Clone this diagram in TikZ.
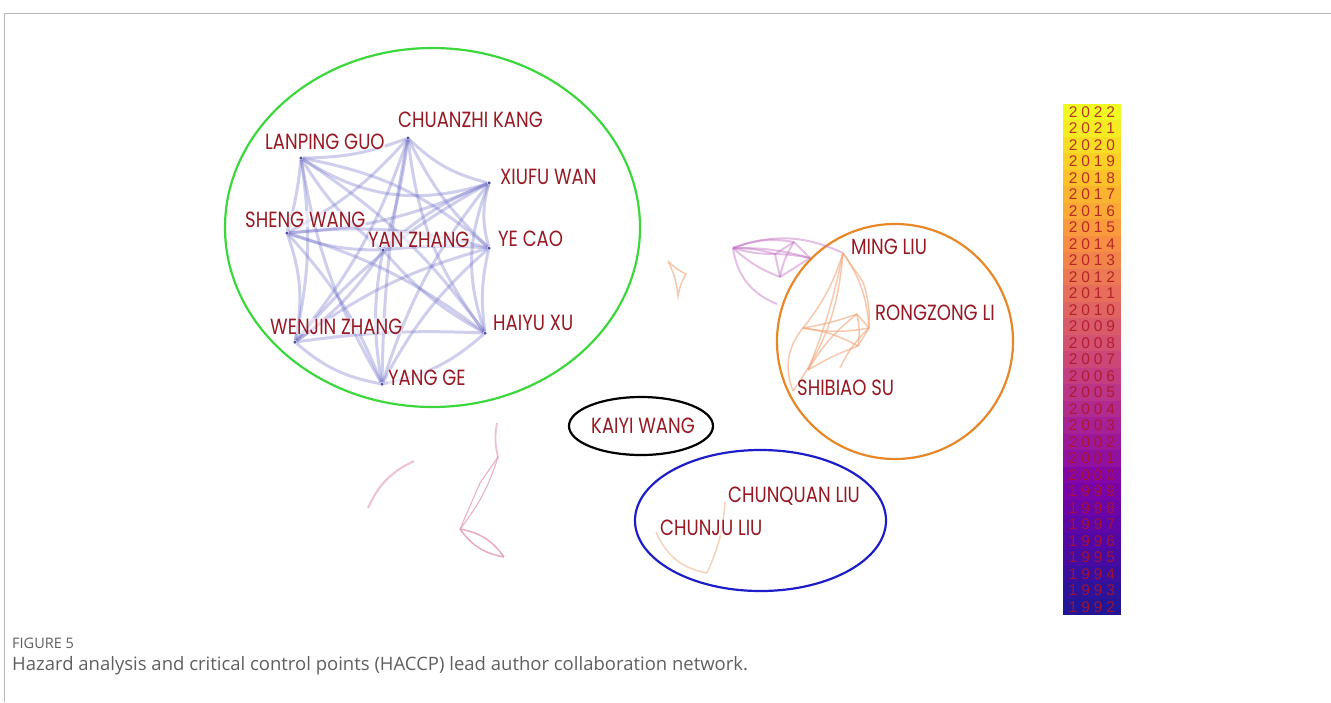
\documentclass[tikz,border=0pt]{standalone}
\usepackage{fontspec}
\newfontfamily\namefont[FakeStretch=0.82]{Poppins}
\newfontfamily\capfont{Open Sans}
\newfontfamily\yrfont{Liberation Sans}
\definecolor{namered}{RGB}{150,25,35}
\definecolor{gedgec}{RGB}{110,110,200}
\definecolor{dotc}{RGB}{80,80,170}
\definecolor{orc}{RGB}{240,165,120}
\definecolor{puc}{RGB}{195,115,195}
\definecolor{pkc}{RGB}{228,150,175}
\definecolor{ringgreen}{RGB}{60,215,60}
\definecolor{ringorange}{RGB}{232,135,40}
\definecolor{ringblue}{RGB}{30,30,200}
\definecolor{capgray}{RGB}{95,95,95}
\definecolor{framegray}{RGB}{185,185,185}
\definecolor{yrred}{RGB}{175,20,35}
\definecolor{pl0}{RGB}{35,22,150}
\definecolor{pl1}{RGB}{80,8,165}
\definecolor{pl2}{RGB}{126,3,168}
\definecolor{pl3}{RGB}{170,35,149}
\definecolor{pl4}{RGB}{204,71,120}
\definecolor{pl5}{RGB}{229,107,93}
\definecolor{pl6}{RGB}{248,149,64}
\definecolor{pl7}{RGB}{253,196,39}
\definecolor{pl8}{RGB}{240,249,33}
\newcommand\yrdigits[4]{\makebox[12.5pt]{#1}\makebox[12.5pt]{#2}\makebox[12.5pt]{#3}\makebox[12.5pt]{#4}}
\tikzset{
  lbl/.style={anchor=base west, inner sep=0pt, font=\namefont\fontsize{22}{23}\selectfont, text=namered, fill=white, fill opacity=0.55, text opacity=1},
  gdot/.style={circle, fill=dotc, inner sep=0pt, minimum size=3.5pt},
  gedge/.style={draw=gedgec, line width=3pt, opacity=0.33},
  oedge/.style={draw=orc, line width=1.5pt, opacity=0.6},
  pedge/.style={draw=puc, line width=2pt, opacity=0.45},
  kedge/.style={draw=pkc, line width=1pt, opacity=0.8},
  ring/.style={line width=2.2pt},
  yr/.style={inner sep=0pt, font=\yrfont\fontsize{15.5}{15.5}\selectfont, text=yrred, text opacity=0.85},
}
\begin{document}
\begin{tikzpicture}[x=1pt,y=-1pt]
\useasboundingbox (0,0) rectangle (1331,702);
% frame
\draw[framegray, line width=1pt] (1331,13) -- (4,13) -- (4,702);
% rings
\draw[ring, ringgreen] (432.5,227.5) ellipse [x radius=207.5pt, y radius=179.5pt];
\draw[ring, ringorange] (895,341.5) ellipse [x radius=118pt, y radius=117.5pt];
\draw[ring, black] (641,426) ellipse [x radius=72pt, y radius=29pt];
\draw[ring, ringblue] (760.5,520.5) ellipse [x radius=125.5pt, y radius=70.5pt];
% green cluster nodes
\node[gdot] (K) at (408,138) {};
\node[gdot] (L) at (301,158) {};
\node[gdot] (X) at (489,183) {};
\node[gdot] (S) at (287,233) {};
\node[gdot] (Y) at (383,250) {};
\node[gdot] (C) at (489,248) {};
\node[gdot] (H) at (485,333) {};
\node[gdot] (W) at (295,342) {};
\node[gdot] (G) at (382,384) {};
\foreach \a/\b/\bd in {K/L/10, K/X/-15, K/S/10, K/Y/5, K/C/-10, K/H/-15, K/W/10, K/G/-5,
  L/X/-25, L/S/5, L/Y/-10, L/C/15, L/H/10, L/W/10, L/G/-10,
  X/S/10, X/Y/-10, X/C/-15, X/H/-20, X/W/-10, X/G/-10,
  S/Y/-10, S/C/10, S/H/10, S/W/15, S/G/10,
  Y/C/5, Y/H/-10, Y/W/10, Y/G/-10,
  C/H/-10, C/W/-10, C/G/-10,
  H/W/-5, H/G/15, W/G/-15}
  \draw[gedge] (\a) to[bend left=\bd] (\b);
% green labels
\node[lbl] (tK) at (398,127) {CHUANZHI KANG};
\node[lbl] (tL) at (265,149) {LANPING GUO};
\node[lbl] (tX) at (500,184) {XIUFU WAN};
\node[lbl] (tS) at (245,227) {SHENG WANG};
\node[lbl] (tY) at (368,247) {YAN ZHANG};
\node[lbl] (tC) at (498,246) {YE CAO};
\node[lbl] (tW) at (270,334) {WENJIN ZHANG};
\node[lbl] (tH) at (493,330) {HAIYU XU};
\node[lbl] (tG) at (388,385) {YANG GE};
% purple cluster
\coordinate (pA) at (733,248);
\coordinate (pB) at (775,254);
\coordinate (pC) at (794,242);
\coordinate (pD) at (780,277);
\coordinate (pE) at (777,304);
\coordinate (pF) at (810,258);
\coordinate (oM) at (843,253);
\foreach \a/\b/\bd in {pA/pB/8, pA/pB/-8, pA/pC/15, pA/pD/-10, pA/pE/-30, pB/pC/0, pB/pD/0, pC/pD/-10, pC/pF/0, pB/pF/5, pD/pF/0, pA/oM/22, pA/pF/8}
  \draw[pedge] (\a) to[bend left=\bd] (\b);
% small orange triangle
\coordinate (tr1) at (668,261);
\coordinate (tr2) at (686,274);
\coordinate (tr3) at (678,296);
\draw[oedge] (tr1) to[bend right=10] (tr2) to[bend right=10] (tr3) to[bend right=10] (tr1);
% orange cluster
\coordinate (oQ1) at (863,282);
\coordinate (oQ2) at (857,314);
\coordinate (oR) at (869,328);
\coordinate (oQ3) at (858,346);
\coordinate (oP) at (803,328);
\coordinate (oS) at (793,391);
\coordinate (oT1) at (808,370);
\coordinate (oT2) at (840,368);
\foreach \a/\b/\bd in {oM/oQ1/0, oQ1/oR/10, oM/oR/15, oM/oP/10, oM/oS/15, oM/oT1/5, oP/oR/-10, oP/oQ2/-5, oP/oQ3/10, oQ2/oR/0, oQ2/oT1/-10, oR/oT2/-10, oQ3/oT1/-5, oP/oS/-30, oQ2/oQ3/10, oR/oQ3/0}
  \draw[oedge] (\a) to[bend left=\bd] (\b);
% orange labels
\node[lbl] (tM) at (851,254) {MING LIU};
\node[lbl] (tR) at (875,320) {RONGZONG LI};
\node[lbl] (tSS) at (797,395) {SHIBIAO SU};
% pink bottom-left fragments
\coordinate (k1) at (368,508);
\coordinate (k2) at (414,461);
\coordinate (k3) at (497,423);
\coordinate (k4) at (498,457);
\coordinate (k5) at (480,483);
\coordinate (k6) at (460,529);
\coordinate (k7) at (504,557);
\draw[kedge, line width=2pt, opacity=0.6] (k1) to[bend left=20] (k2);
\draw[kedge, line width=1.8pt, opacity=0.6] (k3) to[bend right=12] (k4);
\draw[kedge] (k4) -- (k5) -- (k6);
\draw[kedge] (k4) to[bend left=10] (k6);
\draw[kedge, line width=1.5pt] (k6) to[bend left=22] (k7);
\draw[kedge, line width=1.5pt] (k6) to[bend right=22] (k7);
% Kaiyi Wang
\node[lbl] (tKW) at (591,433) {KAIYI WANG};
% blue cluster
\coordinate (b1) at (656,532);
\coordinate (b2) at (707,573);
\coordinate (b3) at (725,502);
\draw[oedge, opacity=0.5] (b1) to[bend right=28] (b2);
\draw[oedge, opacity=0.5] (b2) to[bend right=10] (b3);
\node[lbl] (tCQ) at (728,502) {CHUNQUAN LIU};
\node[lbl] (tCJ) at (660,535) {CHUNJU LIU};
% colour bar
\foreach \i in {0,...,30}{
  \pgfmathsetmacro\tv{\i/30*8}
  \pgfmathtruncatemacro\sg{min(floor(\tv),7)}
  \pgfmathtruncatemacro\sn{\sg+1}
  \pgfmathsetmacro\mixpc{(\tv-\sg)*100}
  \colorlet{bandc}{pl\sn!\mixpc!pl\sg}
  \fill[bandc] (1063,{615-16.5*(\i+1)}) rectangle (1121,{615-16.5*\i+0.4});
  \pgfmathtruncatemacro\yrnum{1992+\i}
  \node[yr] (y\yrnum) at (1092,{615-16.5*(\i+0.5)}) {\expandafter\yrdigits\yrnum};
}
% caption
\node[anchor=base west, inner sep=0pt, font=\capfont\fontsize{14.5}{16}\selectfont, text=capgray] (fig) at (12,648) {FIGURE 5};
\node[anchor=base west, inner sep=0pt, font=\capfont\fontsize{18.5}{20}\selectfont, text=capgray] (cap) at (12,670) {Hazard analysis and critical control points (HACCP) lead author collaboration network.};
\end{tikzpicture}
\end{document}
